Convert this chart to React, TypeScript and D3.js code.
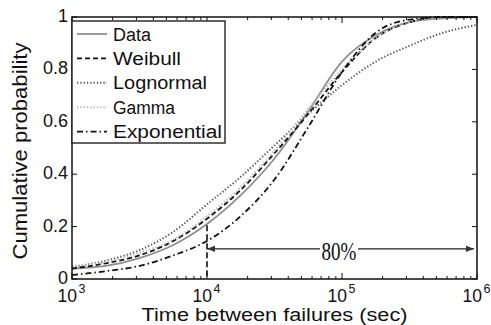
import React from "react";
import * as d3 from "d3";

// log10 of time (sec) at which the curves are sampled
const logTimes = [3, 3.25, 3.5, 3.75, 4, 4.25, 4.5, 4.75, 5, 5.25, 5.5, 5.75, 6];

const dataCdf = [0.04, 0.05, 0.08, 0.13, 0.21, 0.32, 0.46, 0.64, 0.83, 0.93, 0.98, 0.995, 1.0];
const weibullCdf = [0.04, 0.06, 0.09, 0.145, 0.23, 0.34, 0.48, 0.63, 0.79, 0.92, 0.98, 1.0, 1.0];
const lognormalCdf = [0.045, 0.07, 0.11, 0.18, 0.285, 0.39, 0.51, 0.63, 0.74, 0.83, 0.89, 0.94, 0.97];
const gammaCdf = [0.05, 0.065, 0.1, 0.15, 0.24, 0.35, 0.49, 0.65, 0.8, 0.92, 0.98, 0.995, 1.0];
const exponentialCdf = [0.015, 0.03, 0.05, 0.09, 0.145, 0.24, 0.38, 0.58, 0.79, 0.94, 0.99, 1.0, 1.0];

const seriesNames = ["Data", "Weibull", "Lognormal", "Gamma", "Exponential"];
const yTicks = [0, 0.2, 0.4, 0.6, 0.8, 1];
const xTickExps = [3, 4, 5, 6];

// annotation: 80% of failures between 10^4 and 10^6
const markTime = 1e4;
const markProb = 0.205;
const arrowProb = 0.115;
const arrowLabel = "80%";

const W = 491;
const H = 325;
const m = { left: 72, right: 14, top: 17, bottom: 46 };

const styles = [
  { stroke: "#8f8f8f", dash: null, width: 1.8 },
  { stroke: "#111", dash: "5,3", width: 1.8 },
  { stroke: "#555", dash: "1.3,2", width: 2 },
  { stroke: "#b4b4b4", dash: "1.3,2", width: 2 },
  { stroke: "#111", dash: "6,3,1.5,3", width: 1.8 },
];

// widths of the texts in the picture, which is stretched sideways
const legendWidths = [38, 68, 94, 62, 109];

export default function App() {
  const x = d3.scaleLog().domain([1e3, 1e6]).range([m.left, W - m.right]);
  const y = d3.scaleLinear().domain([0, 1]).range([H - m.bottom, m.top]);
  const all = [dataCdf, weibullCdf, lognormalCdf, gammaCdf, exponentialCdf];
  const line = d3
    .line<[number, number]>()
    .x((d) => x(Math.pow(10, d[0])))
    .y((d) => y(d[1]))
    .curve(d3.curveMonotoneX);

  const x0 = m.left;
  const x1 = W - m.right;
  const y0 = H - m.bottom;
  const y1 = m.top;
  const font = "'Liberation Sans', Arial, sans-serif";

  const minor: number[] = [];
  for (let e = 3; e < 6; e++) for (let k = 2; k <= 9; k++) minor.push(k * Math.pow(10, e));

  const lx = x0;
  const ly = y1 + 4;
  const lw = 153;
  const lh = 122;
  const rowH = 24.4;

  const ax = x(markTime);
  const ay = y(arrowProb);
  const bx = x(1e6);
  const labelX = x(1e5) - 3;
  const gapHalf = 19;

  return (
    <svg width={W} height={H} style={{ position: "fixed", left: 0, top: 0, background: "#fff" }} fontFamily={font}>
      <defs>
        <marker id="ah" viewBox="0 0 10 10" refX="10" refY="5" markerWidth="11" markerHeight="8" orient="auto-start-reverse" markerUnits="userSpaceOnUse">
          <path d="M0,1 L10,5 L0,9 z" fill="#333" />
        </marker>
      </defs>
      {/* curves */}
      <g>
        {all.map((vals, i) => (
          <path
            key={i}
            d={line(logTimes.map((t, j) => [t, vals[j]] as [number, number])) || ""}
            fill="none"
            stroke={styles[i].stroke}
            strokeWidth={styles[i].width}
            strokeDasharray={styles[i].dash || undefined}
          />
        ))}
      </g>
      {/* annotation */}
      <line x1={ax} x2={ax} y1={y(markProb)} y2={y0} stroke="#111" strokeWidth={1.6} strokeDasharray="6,3" />
      <line x1={ax} x2={labelX - gapHalf} y1={ay} y2={ay} stroke="#222" strokeWidth={1.4} markerStart="url(#ah)" />
      <line x1={labelX + gapHalf} x2={bx - 3} y1={ay} y2={ay} stroke="#222" strokeWidth={1.4} markerEnd="url(#ah)" />
      <text
        x={labelX}
        y={ay + 11}
        textAnchor="middle"
        fontFamily="'Liberation Serif', serif"
        fontSize={25}
        textLength={35}
        lengthAdjust="spacingAndGlyphs"
        fill="#111"
      >
        {arrowLabel}
      </text>
      {/* frame */}
      <rect x={x0} y={y1} width={x1 - x0} height={y0 - y1} fill="none" stroke="#111" strokeWidth={1.5} />
      {/* y ticks */}
      {yTicks.map((t) => (
        <g key={t}>
          <line x1={x0} x2={x0 + 5} y1={y(t)} y2={y(t)} stroke="#111" />
          <line x1={x1} x2={x1 - 5} y1={y(t)} y2={y(t)} stroke="#111" />
          <text x={x0 - 4} y={y(t) + 5} textAnchor="end" fontSize={18} fill="#111">
            {String(t)}
          </text>
        </g>
      ))}
      {/* x ticks */}
      {minor.map((t) => (
        <g key={t}>
          <line x1={x(t)} x2={x(t)} y1={y0} y2={y0 - 3} stroke="#111" />
          <line x1={x(t)} x2={x(t)} y1={y1} y2={y1 + 3} stroke="#111" />
        </g>
      ))}
      {xTickExps.map((e) => {
        const t = Math.pow(10, e);
        return (
          <g key={e}>
            <line x1={x(t)} x2={x(t)} y1={y0} y2={y0 - 6} stroke="#111" />
            <line x1={x(t)} x2={x(t)} y1={y1} y2={y1 + 6} stroke="#111" />
            <text x={x(t) - 14.5} y={y0 + 23} textAnchor="start" fontSize={17.5} fill="#111">
              10
              <tspan dx={1.5} dy={-9} fontSize={12.5}>
                {e}
              </tspan>
            </text>
          </g>
        );
      })}
      {/* axis titles */}
      <text
        x={(x0 + x1) / 2}
        y={H - 4}
        textAnchor="middle"
        fontSize={17.5}
        textLength={266}
        lengthAdjust="spacingAndGlyphs"
        fill="#111"
      >
        Time between failures (sec)
      </text>
      <text
        transform={`translate(27,${(y0 + y1) / 2 + 3}) rotate(-90)`}
        textAnchor="middle"
        fontSize={21}
        textLength={217}
        lengthAdjust="spacingAndGlyphs"
        fill="#111"
      >
        Cumulative probability
      </text>
      {/* legend */}
      <rect x={lx} y={ly} width={lw} height={lh} fill="#fff" stroke="#222" strokeWidth={1.4} />
      {seriesNames.map((name, i) => {
        const cy = ly + 13 + i * rowH;
        return (
          <g key={name}>
            <line
              x1={lx + 5}
              x2={lx + 35}
              y1={cy}
              y2={cy}
              stroke={styles[i].stroke}
              strokeWidth={styles[i].width}
              strokeDasharray={styles[i].dash || undefined}
            />
            <text
              x={lx + 41}
              y={cy + 6.5}
              fontSize={18}
              textLength={legendWidths[i]}
              lengthAdjust="spacingAndGlyphs"
              fill="#111"
            >
              {name}
            </text>
          </g>
        );
      })}
    </svg>
  );
}
